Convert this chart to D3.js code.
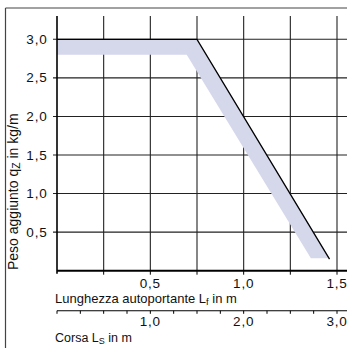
<!DOCTYPE html>
<html><head><meta charset="utf-8">
<script src="https://cdn.jsdelivr.net/npm/d3@7"></script>
<style>body{margin:0;background:#fff}svg{display:block}text{font-family:"Liberation Sans",Arial,sans-serif;fill:#111}</style>
</head><body>
<script>
// Data
const lineX = [0, 0.75, 1.46];
const lineY = [3.0, 3.0, 0.15];
const bandX = [0, 0.75, 1.46, 1.36, 0.695, 0];
const bandY = [3.0, 3.0, 0.16, 0.16, 2.8, 2.8];
const yTicks = [0.5, 1.0, 1.5, 2.0, 2.5, 3.0];
const yTickLabels = ["0,5", "1,0", "1,5", "2,0", "2,5", "3,0"];
const xGrid = [0.25, 0.5, 0.75, 1.0, 1.25, 1.5];
const xTicks = [0.5, 1.0, 1.5];
const xTickLabels = ["0,5", "1,0", "1,5"];
const sTicksMinor = d3.range(0, 3.01, 0.25);
const sTicks = [1.0, 2.0, 3.0];
const sTickLabels = ["1,0", "2,0", "3,0"];

const W = 347, H = 350;
const svg = d3.select("body").append("svg").attr("width", W).attr("height", H);
const x = d3.scaleLinear().domain([0, 1.5]).range([57, 337]);
const y = d3.scaleLinear().domain([0, 3]).range([270.7, 39.3]);
const xs = d3.scaleLinear().domain([0, 3]).range([57, 337]);

// frame
svg.append("line").attr("x1", 5.5).attr("x2", W).attr("y1", 8).attr("y2", 8).attr("stroke", "#444").attr("stroke-width", 1.2);
svg.append("line").attr("x1", 5.5).attr("x2", 5.5).attr("y1", 8).attr("y2", 348).attr("stroke", "#444").attr("stroke-width", 1.2);

// grid
const g = svg.append("g");
g.selectAll("line.v").data(xGrid).join("line")
  .attr("x1", d => x(d)).attr("x2", d => x(d)).attr("y1", 16).attr("y2", y(0))
  .attr("stroke", "#222").attr("stroke-width", 1.1);
g.selectAll("line.h").data(yTicks).join("line")
  .attr("x1", x(0) - 4).attr("x2", W).attr("y1", d => y(d)).attr("y2", d => y(d))
  .attr("stroke", "#222").attr("stroke-width", 1.1);

// band
svg.append("path")
  .attr("d", d3.line().x((d, i) => x(bandX[i])).y((d, i) => y(bandY[i]))(bandX) + "Z")
  .attr("fill", "#d5d8eb");
// line
svg.append("path")
  .attr("d", d3.line().x((d, i) => x(lineX[i])).y((d, i) => y(lineY[i]))(lineX))
  .attr("fill", "none").attr("stroke", "#000").attr("stroke-width", 1.3);

// axes
svg.append("line").attr("x1", x(0)).attr("x2", x(0)).attr("y1", 16).attr("y2", y(0) + 3).attr("stroke", "#000").attr("stroke-width", 1.6);
svg.append("line").attr("x1", x(0)).attr("x2", W).attr("y1", y(0)).attr("y2", y(0)).attr("stroke", "#000").attr("stroke-width", 2);
svg.selectAll("line.xt").data(xGrid).join("line")
  .attr("x1", d => x(d)).attr("x2", d => x(d)).attr("y1", y(0)).attr("y2", y(0) + 4)
  .attr("stroke", "#000").attr("stroke-width", 1);

// y labels
svg.selectAll("text.yl").data(yTicks).join("text")
  .attr("x", 47.5).attr("y", d => y(d) + 4.5).attr("text-anchor", "end")
  .attr("font-size", 13.5).attr("letter-spacing", 0.8).text((d, i) => yTickLabels[i]);
// x labels
svg.selectAll("text.xl").data(xTicks).join("text")
  .attr("x", d => x(d)).attr("y", 288).attr("text-anchor", "middle")
  .attr("font-size", 13.5).attr("letter-spacing", 0.8).text((d, i) => xTickLabels[i]);

const t1 = svg.append("text").attr("x", 55).attr("y", 302.5).attr("font-size", 13);
t1.append("tspan").text("Lunghezza autoportante L");
t1.append("tspan").attr("font-size", 9.5).attr("dy", 2).text("f");
t1.append("tspan").attr("dy", -2).text(" in m");

// second axis
svg.append("line").attr("x1", xs(0)).attr("x2", W).attr("y1", 310.7).attr("y2", 310.7).attr("stroke", "#000").attr("stroke-width", 1.1);
svg.selectAll("line.st").data(sTicksMinor).join("line")
  .attr("x1", d => xs(d)).attr("x2", d => xs(d)).attr("y1", 310.7).attr("y2", 313.8)
  .attr("stroke", "#000").attr("stroke-width", 1);
svg.selectAll("text.sl").data(sTicks).join("text")
  .attr("x", d => xs(d)).attr("y", 326).attr("text-anchor", "middle")
  .attr("font-size", 13.5).attr("letter-spacing", 0.8).text((d, i) => sTickLabels[i]);
const t2 = svg.append("text").attr("x", 55).attr("y", 342).attr("font-size", 12.5);
t2.append("tspan").text("Corsa L");
t2.append("tspan").attr("font-size", 9).attr("dy", 2).text("S");
t2.append("tspan").attr("dy", -2).text(" in m");

// y title
const t3 = svg.append("text").attr("transform", "translate(18,270) rotate(-90)").attr("font-size", 14);
t3.append("tspan").text("Peso aggiunto  q");
t3.append("tspan").attr("font-size", 10.5).attr("dy", 2).text("Z");
t3.append("tspan").attr("dy", -2).text(" in kg/m");
</script>
</body></html>
